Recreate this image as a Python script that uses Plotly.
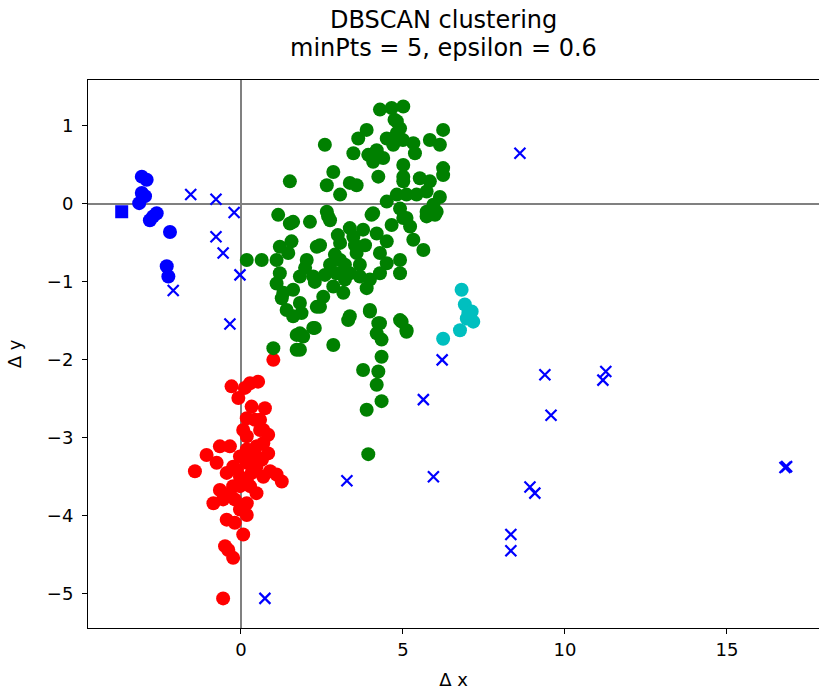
import plotly.graph_objects as go

# ---- data ----
red_x = [1.00, -0.29, -0.08, 0.28, 0.53, 0.12, 0.74, 0.18, 0.59, 0.84, 0.18, 0.69, 0.84, -0.65, -0.34,
         -1.06, -0.75, -1.42, -0.44, 0.18, 0.48, 1.10, 1.26, 0.69, 0.18, -0.24, 0.48, -0.85, -0.55, -0.19,
         0.18, -0.44, -0.19, 0.18, 0.07, -0.49, -0.39, -0.24, -0.55, -0.03, 0.07, 0.33, 0.59, 0.38, -0.03,
         -0.24, 0.48, 0.33, 0.90, -0.03, 0.28, -0.03, -0.34, -0.65, 0.69, 0.53, 0.18, 0.43, 0.65, -0.12]
red_y = [-2.00, -2.34, -2.49, -2.30, -2.28, -2.36, -2.62, -2.75, -2.77, -2.96, -2.98, -3.07, -3.20, -3.11, -3.11,
         -3.22, -3.32, -3.43, -3.45, -3.32, -3.37, -3.47, -3.56, -3.50, -3.54, -3.62, -3.71, -3.84, -3.79, -3.79,
         -3.84, -4.05, -4.09, -3.99, -4.24, -4.39, -4.44, -4.54, -5.06, -3.92, -2.90, -2.60, -2.90, -3.24, -3.24,
         -3.37, -3.11, -3.45, -3.43, -3.62, -3.62, -3.50, -3.71, -3.67, -2.90, -3.26, -3.15, -2.77, -3.28, -3.41]

green_x = [4.29, 4.65, 5.01, 4.81, 4.91, 3.88, 3.62, 2.59, 4.50, 4.70, 6.24, 5.83, 6.14, 5.32, 5.37,
           3.47, 3.93, 4.19, 4.08, 4.39, 5.01, 5.01, 5.01, 6.24, 6.24, 5.52, 5.83, 5.73, 4.24, 2.85,
           2.65, 3.06, 3.36, 3.57, 1.51, 4.81, 4.50, 5.11, 5.42, 6.14, 5.94, 1.15, 1.61, 2.13, 2.65,
           2.75, 4.08, 4.91, 5.11, 5.73, 6.04, 1.51, 2.69, 4.03, 4.65, 5.01, 5.22, 5.73, 5.99, 1.56,
           1.46, 1.20, 1.10, 1.31, 1.26, 1.41, 1.61, 1.82, 2.23, 0.18, 0.64, 2.03, 1.98, 2.23, 2.28,
           2.34, 2.44, 3.06, 3.47, 3.77, 4.19, 4.50, 3.06, 2.95, 3.36, 2.85, 2.54, 3.16, 3.67, 3.88,
           3.98, 3.57, 4.29, 4.50, 4.91, 4.91, 4.29, 5.32, 5.63, 2.44, 3.36, 3.98, 4.29, 4.91, 5.11,
           1.92, 1.82, 1.61, 1.82, 1.20, 1.10, 2.28, 2.85, 3.31, 3.98, 4.24, 4.19, 4.34, 4.34, 3.77,
           4.24, 4.19, 4.34, 3.88, 3.93, 4.96, 5.11, 2.34, 1.87, 1.87, 1.82, 1.00, 1.72, 1.72, 2.90,
           3.21, 3.52, 2.75, 3.21, 2.59, 3.67, 2.99, 3.83, 3.36, 4.74, 4.81, 5.00]
green_y = [1.21, 1.23, 1.25, 1.06, 0.97, 0.95, 0.84, 0.76, 0.84, 0.76, 0.95, 0.82, 0.76, 0.78, 0.65,
           0.65, 0.63, 0.69, 0.54, 0.59, 0.50, 0.35, 0.29, 0.46, 0.37, 0.33, 0.29, 0.16, 0.35, 0.41,
           0.24, 0.12, 0.27, 0.24, 0.29, 0.12, 0.03, 0.12, 0.12, 0.09, -0.01, -0.14, -0.23, -0.23, -0.10,
           -0.21, -0.12, -0.06, -0.18, -0.10, -0.10, -0.25, -0.16, -0.14, -0.27, -0.18, -0.29, -0.16, -0.14, -0.48,
           -0.63, -0.89, -1.02, -1.14, -1.21, -1.36, -1.44, -1.66, -1.59, -0.72, -0.72, -0.72, -0.82, -0.93, -1.00,
           -0.55, -0.53, -0.50, -0.42, -0.33, -0.38, -0.48, -0.72, -0.89, -0.89, -1.06, -1.19, -1.14, -0.93, -1.08,
           -0.97, -0.63, -0.63, -0.76, -0.72, -0.89, -0.89, -0.46, -0.59, -1.32, -1.44, -1.36, -1.53, -1.49, -1.62,
           -1.70, -0.93, -1.10, -1.27, -0.55, -0.72, -1.59, -1.81, -1.49, -1.38, -1.53, -1.66, -1.74, -1.96, -2.13,
           -2.15, -2.32, -2.53, -2.64, -3.21, -1.51, -1.64, -1.32, -1.40, -1.68, -1.87, -1.85, -1.68, -1.87, -0.65,
           -0.78, -0.53, -0.78, -0.97, -0.91, -0.78, -0.40, -0.53, -0.31, 1.08, 0.91, 0.82]

blue_x = [-3.06, -2.91, -3.06, -2.96, -3.14, -2.81, -2.60, -2.71, -2.19, -2.29, -2.24]
blue_y = [0.35, 0.31, 0.14, 0.10, 0.01, -0.21, -0.12, -0.16, -0.36, -0.80, -0.93]

cyan_x = [6.81, 6.91, 7.12, 7.17, 6.97, 6.76, 6.24, 7.02]
cyan_y = [-1.10, -1.29, -1.38, -1.51, -1.47, -1.62, -1.73, -1.40]

square_x = [-3.68]
square_y = [-0.10]

noise_x = [-1.55, -0.77, -0.21, -0.77, -0.55, -2.09, -0.03, -0.34, 0.74, 8.61, 6.21, 5.63, 9.38, 9.57,
           11.26, 11.17, 5.94, 3.27, 8.92, 9.07, 8.33, 8.33, 16.84, 16.79]
noise_y = [0.12, 0.06, -0.11, -0.42, -0.63, -1.11, -0.91, -1.54, -5.06, 0.65, -2.00, -2.51, -2.19, -2.71,
           -2.15, -2.26, -3.50, -3.55, -3.63, -3.71, -4.24, -4.45, -3.37, -3.38]

x_ticks = [0, 5, 10, 15]
y_ticks = [-5, -4, -3, -2, -1, 0, 1]
title_lines = ["DBSCAN clustering", "minPts = 5, epsilon = 0.6"]

FONT = "DejaVu Sans"
TICK_SIZE = 18
TITLE_SIZE = 24
fig = go.Figure()

def dots(x, y, color, symbol="circle", size=14):
    fig.add_trace(go.Scatter(x=x, y=y, mode="markers", showlegend=False,
                             marker=dict(color=color, size=size, symbol=symbol, line=dict(width=0))))

dots(red_x, red_y, "#ff0000")
dots(green_x, green_y, "#008000")
dots(blue_x, blue_y, "#0000ff")
dots(cyan_x, cyan_y, "#00bfbf")
dots(square_x, square_y, "#0000ff", symbol="square", size=13)
fig.add_trace(go.Scatter(x=noise_x, y=noise_y, mode="markers", showlegend=False,
                         marker=dict(symbol="x-thin", size=11, line=dict(color="#0000ff", width=2.2))))

axis_common = dict(showgrid=False, showline=True, linecolor="black", linewidth=1,
                   ticks="outside", ticklen=5, tickwidth=1, tickcolor="black",
                   zeroline=True, zerolinecolor="#808080", zerolinewidth=1.5,
                   layer="above traces", tickfont=dict(family=FONT, size=TICK_SIZE, color="black"))

fig.update_xaxes(range=[-4.72, 17.84], tickvals=x_ticks, mirror=True,
                 title=dict(text="Δ x", font=dict(family=FONT, size=TICK_SIZE, color="black"), standoff=14),
                 **axis_common)
fig.update_yaxes(range=[-5.44, 1.59], tickvals=y_ticks, ticklabelstandoff=5,
                 title=dict(text="Δ y", font=dict(family=FONT, size=TICK_SIZE, color="black"), standoff=20),
                 **axis_common)

fig.add_annotation(text=title_lines[0], xref="paper", yref="paper", x=0.486, y=1.1095,
                   xanchor="center", yanchor="middle", showarrow=False,
                   font=dict(family=FONT, size=TITLE_SIZE, color="black"))
fig.add_annotation(text=title_lines[1], xref="paper", yref="paper", x=0.486, y=1.0584,
                   xanchor="center", yanchor="middle", showarrow=False,
                   font=dict(family=FONT, size=TITLE_SIZE, color="black"))

fig.update_layout(width=819, height=697, margin=dict(l=88, r=0, t=80, b=69),
                  plot_bgcolor="white", paper_bgcolor="white",
                  font=dict(family=FONT, color="black"))

fig.write_html("out.html")
